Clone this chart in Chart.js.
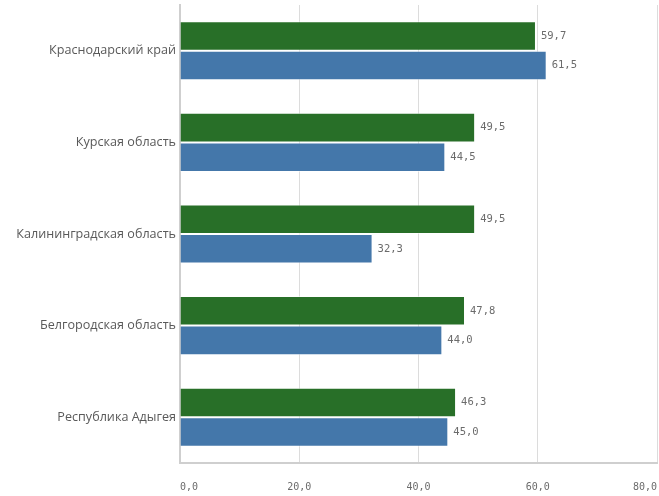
<!DOCTYPE html>
<html><head><meta charset="utf-8">
<script src="https://cdn.jsdelivr.net/npm/chart.js@4"></script>
<style>html,body{margin:0;padding:0;background:#fff}#w{width:659px;height:496px}</style>
</head><body><div id="w"><canvas id="c"></canvas></div>
<script>
const categories = ["Краснодарский край","Курская область","Калининградская область","Белгородская область","Республика Адыгея"];
const seriesGreen = [59.7, 49.5, 49.5, 47.8, 46.3];
const seriesBlue = [61.5, 44.5, 32.3, 44.0, 45.0];
const xTicks = [0, 20, 40, 60, 80];

const fmt = v => v.toFixed(1).replace('.', ',');

const valueLabels = {
  id: 'valueLabels',
  afterDatasetsDraw(chart) {
    const ctx = chart.ctx;
    ctx.save();
    ctx.font = '10.5px "DejaVu Sans Mono"';
    ctx.fillStyle = '#6b6b6b';
    ctx.textAlign = 'left';
    ctx.textBaseline = 'middle';
    chart.data.datasets.forEach((ds, i) => {
      chart.getDatasetMeta(i).data.forEach((el, j) => {
        ctx.fillText(fmt(ds.data[j]), el.x + 5, el.y);
      });
    });
    ctx.restore();
  }
};

new Chart(document.getElementById('c'), {
  type: 'bar',
  data: {
    labels: categories,
    datasets: [
      { label: 'Ряд 1', data: seriesGreen, backgroundColor: '#286f28', borderColor: 'rgba(255,255,255,0.55)', borderWidth: 1, categoryPercentage: 0.645, barPercentage: 1 },
      { label: 'Ряд 2', data: seriesBlue, backgroundColor: '#4477aa', borderColor: 'rgba(255,255,255,0.55)', borderWidth: 1, categoryPercentage: 0.645, barPercentage: 1 }
    ]
  },
  options: {
    indexAxis: 'y',
    responsive: true,
    maintainAspectRatio: false,
    animation: false,
    layout: { padding: { top: 5, right: 2, left: 0, bottom: 0 } },
    plugins: { legend: { display: false }, tooltip: { enabled: false } },
    scales: {
      x: {
        min: 0, max: 80,
        afterBuildTicks: s => { s.ticks = xTicks.map(v => ({ value: v })); },
        afterFit: s => { s.height = 33; s.paddingLeft = 0; s.paddingRight = 0; },
        ticks: { align: 'inner', padding: 0, color: '#6b6b6b', font: { family: 'DejaVu Sans Mono', size: 10 }, callback: v => fmt(v) },
        grid: { color: '#dcdcdc', lineWidth: 1, tickLength: 18, drawTicks: true, tickColor: 'rgba(0,0,0,0)' },
        border: { color: '#cfcfcf', width: 2 }
      },
      y: {
        afterFit: s => { s.width = 180; s.paddingTop = 0; s.paddingBottom = 0; },
        ticks: { padding: 4, color: '#595959', font: { family: 'Open Sans', size: 12.6 } },
        grid: { display: false, drawTicks: false },
        border: { color: '#cfcfcf', width: 2 }
      }
    }
  },
  plugins: [valueLabels]
});
</script></body></html>
